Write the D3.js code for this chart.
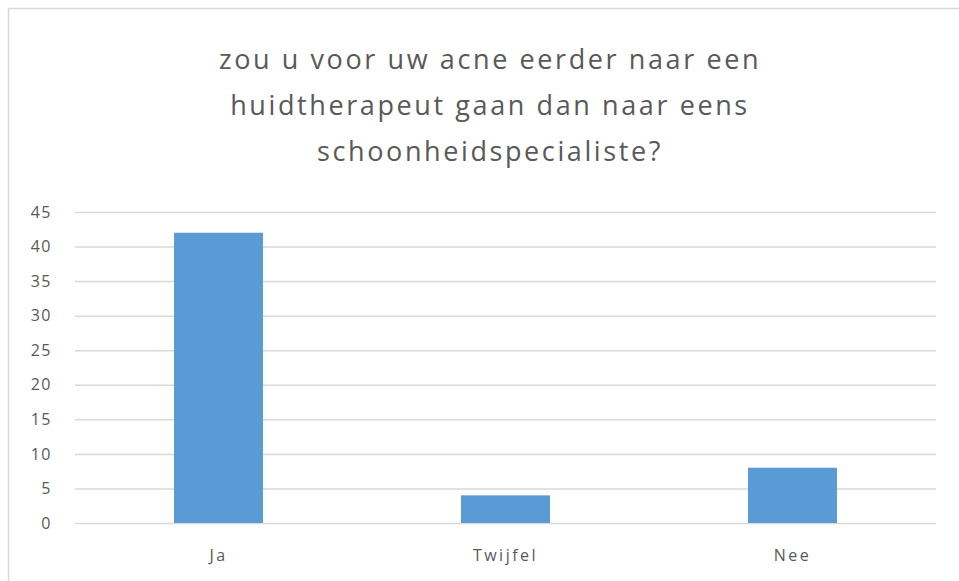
<!DOCTYPE html>
<html>
<head>
<meta charset="utf-8">
<script src="https://cdn.jsdelivr.net/npm/d3@7"></script>
<style>
  body { margin: 0; background: #fff; }
  svg { display: block; }
</style>
</head>
<body>
<svg id="drawing_region"></svg>
<script>
const categories = [ 'Ja', 'Twijfel', 'Nee' ];
const values = [ 42, 4, 8 ];
const yTicks = [ 0, 5, 10, 15, 20, 25, 30, 35, 40, 45 ];
const titleLines = [
    'zou u voor uw acne eerder naar een',
    'huidtherapeut gaan dan naar eens',
    'schoonheidspecialiste?'
];

const width = 959, height = 581;
const margin = { top: 212, right: 23, bottom: 58, left: 75 };
const innerW = width - margin.left - margin.right;
const innerH = height - margin.top - margin.bottom;

const svg = d3.select( '#drawing_region' )
    .attr( 'width', width )
    .attr( 'height', height );

// chart frame
svg.append( 'rect' )
    .attr( 'x', 8.5 ).attr( 'y', 8.5 )
    .attr( 'width', width + 10 ).attr( 'height', height + 10 )
    .attr( 'fill', '#fff' )
    .attr( 'stroke', '#d9d9d9' )
    .attr( 'stroke-width', 1.5 );

svg.append( 'text' )
    .attr( 'text-anchor', 'middle' )
    .attr( 'font-family', '"Open Sans", sans-serif' )
    .attr( 'font-size', 27 )
    .attr( 'letter-spacing', 2.6 )
    .attr( 'fill', '#595959' )
    .selectAll( 'tspan' )
    .data( titleLines )
    .join( 'tspan' )
    .attr( 'x', 490 )
    .attr( 'y', ( d, i ) => 69 + i * 46 )
    .text( d => d );

const chart = svg.append( 'g' )
    .attr( 'transform', `translate(${margin.left}, ${margin.top})` );

const xscale = d3.scaleBand()
    .domain( categories )
    .range( [ 0, innerW ] )
    .paddingInner( 0.69 )
    .paddingOuter( 0.345 );

const yscale = d3.scaleLinear()
    .domain( [ 0, 45 ] )
    .range( [ innerH, 0 ] );

// gridlines
chart.append( 'g' )
    .selectAll( 'line' )
    .data( yTicks )
    .join( 'line' )
    .attr( 'x1', 0 ).attr( 'x2', innerW )
    .attr( 'y1', d => yscale( d ) + 0.5 )
    .attr( 'y2', d => yscale( d ) + 0.5 )
    .attr( 'stroke', '#d9d9d9' )
    .attr( 'stroke-width', 1.5 );

chart.selectAll( 'rect.bar' )
    .data( values )
    .join( 'rect' )
    .attr( 'class', 'bar' )
    .attr( 'x', ( d, i ) => xscale( categories[i] ) )
    .attr( 'y', d => yscale( d ) )
    .attr( 'width', xscale.bandwidth() )
    .attr( 'height', d => innerH - yscale( d ) )
    .attr( 'fill', '#5b9bd5' );

const yaxis = d3.axisLeft( yscale )
    .tickValues( yTicks )
    .tickSize( 0 )
    .tickPadding( 23 );

const yaxis_group = chart.append( 'g' ).call( yaxis );
yaxis_group.select( '.domain' ).remove();
yaxis_group.selectAll( 'text' )
    .attr( 'font-family', '"Open Sans", sans-serif' )
    .attr( 'font-size', 16 )
    .attr( 'letter-spacing', 1.5 )
    .attr( 'fill', '#595959' );

const xaxis = d3.axisBottom( xscale )
    .tickSize( 0 )
    .tickPadding( 27 );

const xaxis_group = chart.append( 'g' )
    .attr( 'transform', `translate(0, ${innerH})` )
    .call( xaxis );
xaxis_group.select( '.domain' ).remove();
xaxis_group.selectAll( 'text' )
    .attr( 'font-family', '"Open Sans", sans-serif' )
    .attr( 'font-size', 16 )
    .attr( 'letter-spacing', 2.5 )
    .attr( 'fill', '#595959' );
</script>
</body>
</html>
